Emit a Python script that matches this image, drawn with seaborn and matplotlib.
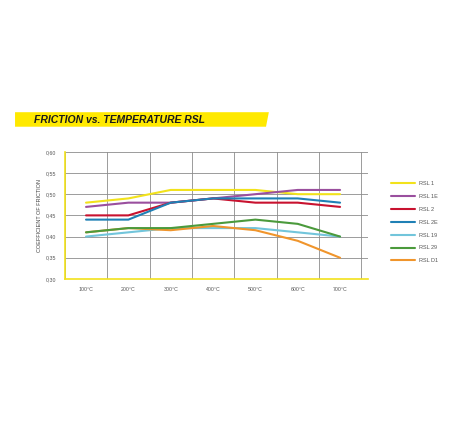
import matplotlib
matplotlib.use("Agg")
import matplotlib.pyplot as plt
import matplotlib.patches as mpatches
import numpy as np
import pandas as pd
import seaborn as sns

temps = ["100°C", "200°C", "300°C", "400°C", "500°C", "600°C", "700°C"]
series = ["RSL 1", "RSL 1E", "RSL 2", "RSL 2E", "RSL 19", "RSL 29", "RSL D1"]
rsl_1 = [0.48, 0.49, 0.51, 0.51, 0.51, 0.50, 0.50]
rsl_1e = [0.47, 0.48, 0.48, 0.49, 0.50, 0.51, 0.51]
rsl_2 = [0.45, 0.45, 0.48, 0.49, 0.48, 0.48, 0.47]
rsl_2e = [0.44, 0.44, 0.48, 0.49, 0.49, 0.49, 0.48]
rsl_19 = [0.40, 0.41, 0.42, 0.42, 0.42, 0.41, 0.40]
rsl_29 = [0.41, 0.42, 0.42, 0.43, 0.44, 0.43, 0.40]
rsl_d1 = [0.41, 0.42, 0.415, 0.425, 0.415, 0.39, 0.35]
colors = ["#f2e21b", "#9a4f9e", "#c8122f", "#1f80b5", "#72c5db", "#4b9a3c", "#f0952c"]

values = [rsl_1, rsl_1e, rsl_2, rsl_2e, rsl_19, rsl_29, rsl_d1]
rows = []
for name, vals in zip(series, values):
    for i, v in enumerate(vals):
        rows.append({"series": name, "x": i + 1, "temp": temps[i], "cof": v})
df = pd.DataFrame(rows)

sns.set_style("white")
plt.rcParams['font.family'] = ['Liberation Sans', 'DejaVu Sans']

fig = plt.figure(figsize=(4.7, 4.4), dpi=100)
ax = fig.add_axes([0.138, 0.366, 0.645, 0.289])

# title banner
banner = mpatches.Polygon([[0.032, 0.745], [0.572, 0.745], [0.566, 0.712], [0.032, 0.712]],
                          closed=True, transform=fig.transFigure, facecolor="#ffe900",
                          edgecolor="none")
fig.patches.append(banner)
fig.text(0.072, 0.728, "FRICTION vs. TEMPERATURE RSL", fontsize=7.5, fontweight="bold",
         fontstyle="italic", va="center", ha="left", color="#1a1a1a")

sns.lineplot(data=df, x="x", y="cof", hue="series", hue_order=series,
             palette=colors, linewidth=1.5, ax=ax, legend=False)
# keep green above orange at the start like the reference
for line, name in zip(ax.lines, series):
    if name == "RSL 29":
        line.set_zorder(5)

ax.set_xlim(0.5, 7.66)
ax.set_ylim(0.30, 0.60)
ax.set_xticks(range(1, 8))
ax.set_xticklabels(temps)
ax.set_xticks(np.arange(0.5, 8, 1.0), minor=True)
yt = np.arange(0.30, 0.601, 0.05)
ax.set_yticks(yt)
ax.set_yticklabels([f"{v:.2f}".replace(".", ",") for v in yt])
ax.grid(False)
ax.grid(True, which="minor", axis="x", color="#8c8c8c", linewidth=0.6)
ax.grid(True, which="major", axis="y", color="#8c8c8c", linewidth=0.6)
ax.tick_params(axis="x", which="major", length=0, labelsize=3.8, labelcolor="#555555", pad=6)
ax.tick_params(axis="x", which="minor", length=4, color="#8c8c8c", width=0.6, direction="out")
ax.tick_params(axis="y", which="major", length=4, color="#8c8c8c", width=0.6,
               labelsize=3.8, labelcolor="#555555", pad=2, direction="out")
for s in ["top", "right"]:
    ax.spines[s].set_visible(False)
ax.spines["left"].set_color("#f2e21b")
ax.spines["left"].set_linewidth(1.2)
ax.spines["bottom"].set_color("#f2e21b")
ax.spines["bottom"].set_linewidth(1.2)
ax.set_xlabel("")
ax.set_ylabel("COEFFICIENT OF FRICTION", fontsize=4, color="#444444", labelpad=3)

handles = [plt.Line2D([0], [0], color=c, linewidth=1.5) for c in colors]
leg = fig.legend(handles, series, loc="upper left", bbox_to_anchor=(0.822, 0.6),
                 frameon=False, fontsize=4, labelcolor="#555555", handlelength=4.2,
                 handletextpad=0.8, labelspacing=1.42)

fig.savefig("out.png", dpi=100)
